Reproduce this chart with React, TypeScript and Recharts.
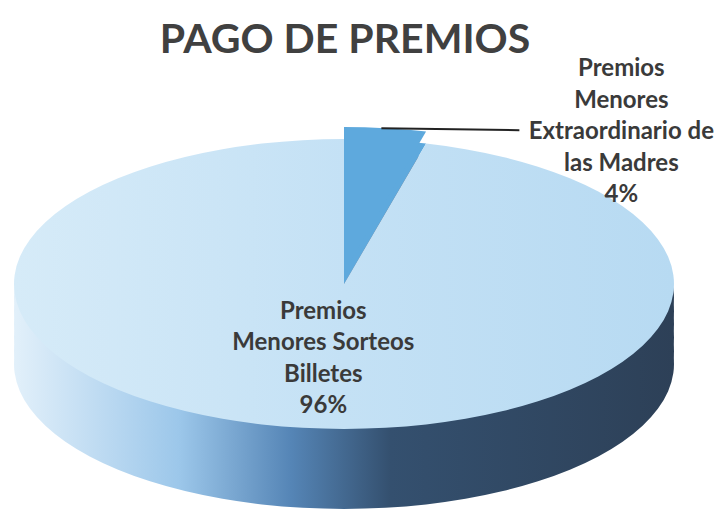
import { Cell, Pie, PieChart } from 'recharts';

// chart data
const categories = [
  'Premios Menores Extraordinario de las Madres',
  'Premios Menores Sorteos Billetes',
];
const shares = [4, 96];
const labelLines = [
  ['Premios', 'Menores', 'Extraordinario de', 'las Madres'],
  ['Premios', 'Menores Sorteos', 'Billetes'],
];
const title = 'PAGO DE PREMIOS';

const data = categories.map((name, i) => ({ name, value: shares[i], lines: labelLines[i] }));

// 3d look: flatten the disc and stack a few darker copies underneath
const W = 718;
const H = 523;
const CX = 344;
const CY = 284;
const RX = 330;
const SQUASH = 145 / 330;
const DEPTH = 80;
const EXPLODE = 12;
const RADIAN = Math.PI / 180;
const sideOffsets = [1, 0.84, 0.67, 0.5, 0.34, 0.17];

const textColor = '#3a3a3a';
const sliceColor = '#5ea9dd';
const font = 'Lato, "Open Sans", sans-serif';
const labelSize = 24;

function renderLabel(props: any) {
  const { cx, cy, midAngle, outerRadius, index } = props;
  const item = data[index];
  const lineH = 31.5;
  if (index === 0) {
    const sx = cx + outerRadius * Math.cos(-midAngle * RADIAN);
    const sy = cy + outerRadius * SQUASH * Math.sin(-midAngle * RADIAN) - EXPLODE;
    const ex = sx + 134;
    const tx = ex + 102;
    const top = sy - 2 * lineH + 11;
    return (
      <g key="lbl0">
        <line x1={sx - 4} y1={sy} x2={ex} y2={sy + 2} stroke="#222" strokeWidth={2} />
        <text x={tx} y={top} textAnchor="middle" fill={textColor} fontSize={labelSize} fontWeight={700} fontFamily={font}>
          {[...item.lines, `${item.value}%`].map((t, i) => (
            <tspan key={i} x={tx} dy={i === 0 ? 0 : lineH}>{t}</tspan>
          ))}
        </text>
      </g>
    );
  }
  const r = outerRadius * 0.5;
  const x = cx + r * Math.cos(-midAngle * RADIAN);
  const y = cy + r * SQUASH * Math.sin(-midAngle * RADIAN);
  const all = [...item.lines, `${item.value}%`];
  const top = y - ((all.length - 1) * lineH) / 2 + 10;
  return (
    <text key="lbl1" x={x} y={top} textAnchor="middle" fill={textColor} fontSize={labelSize} fontWeight={700} fontFamily={font}>
      {all.map((t, i) => (
        <tspan key={i} x={x} dy={i === 0 ? 0 : lineH}>{t}</tspan>
      ))}
    </text>
  );
}

export default function App() {
  const innerH = H / SQUASH;
  const cyU = CY / SQUASH;
  return (
    <div style={{ position: 'absolute', left: 0, top: 0, width: W, height: H, background: '#fff', overflow: 'hidden' }}>
      <div
        style={{
          position: 'absolute',
          left: 0,
          top: 10,
          width: W,
          textAlign: 'center',
          paddingRight: 28,
          boxSizing: 'border-box',
          fontFamily: font,
          fontWeight: 700,
          fontSize: 41,
          color: '#404040',
          lineHeight: '56px',
        }}
      >
        {title}
      </div>

      <div style={{ position: 'absolute', left: 0, top: 0, width: W, height: innerH, transform: `scaleY(${SQUASH})`, transformOrigin: '0 0' }}>
        <PieChart width={W} height={innerH} margin={{ top: 0, right: 0, bottom: 0, left: 0 }}>
          <defs>
            <linearGradient id="sideGrad" gradientUnits="userSpaceOnUse" x1={CX - RX} y1={0} x2={CX + RX} y2={0}>
              <stop offset="0%" stopColor="#e2f0fa" />
              <stop offset="25%" stopColor="#9cc7ea" />
              <stop offset="42%" stopColor="#5585b6" />
              <stop offset="57%" stopColor="#34506f" />
              <stop offset="100%" stopColor="#2d4057" />
            </linearGradient>
            <linearGradient id="faceGrad" gradientUnits="userSpaceOnUse" x1={CX - RX} y1={0} x2={CX + RX} y2={0}>
              <stop offset="0%" stopColor="#d6ebf8" />
              <stop offset="50%" stopColor="#c4e1f5" />
              <stop offset="100%" stopColor="#b7daf2" />
            </linearGradient>
          </defs>
          {sideOffsets.map((k) => (
            <Pie
              key={k}
              data={data}
              dataKey="value"
              cx={CX}
              cy={cyU + (DEPTH * k) / SQUASH}
              outerRadius={RX}
              startAngle={90}
              endAngle={-270}
              stroke="none"
              isAnimationActive={false}
            >
              {data.map((d) => (
                <Cell key={d.name} fill="url(#sideGrad)" />
              ))}
            </Pie>
          ))}
          <Pie
            data={data}
            dataKey="value"
            cx={CX}
            cy={cyU}
            outerRadius={RX}
            startAngle={90}
            endAngle={-270}
            stroke="none"
            isAnimationActive={false}
          >
            {data.map((d, i) => (
              <Cell key={d.name} fill={i === 0 ? sliceColor : 'url(#faceGrad)'} />
            ))}
          </Pie>
          <Pie
            data={data}
            dataKey="value"
            cx={CX}
            cy={cyU - EXPLODE / SQUASH}
            outerRadius={RX}
            startAngle={90}
            endAngle={-270}
            stroke="none"
            isAnimationActive={false}
          >
            {data.map((d, i) => (
              <Cell key={d.name} fill={i === 0 ? sliceColor : 'transparent'} />
            ))}
          </Pie>
        </PieChart>
      </div>

      <div style={{ position: 'absolute', left: 0, top: 0, pointerEvents: 'none' }}>
        <PieChart width={W} height={H} margin={{ top: 0, right: 0, bottom: 0, left: 0 }}>
          <Pie
            data={data}
            dataKey="value"
            cx={CX}
            cy={CY}
            outerRadius={RX}
            startAngle={90}
            endAngle={-270}
            fill="transparent"
            stroke="none"
            label={renderLabel}
            labelLine={false}
            isAnimationActive={false}
          >
            {data.map((d) => (
              <Cell key={d.name} fill="transparent" />
            ))}
          </Pie>
        </PieChart>
      </div>
    </div>
  );
}
